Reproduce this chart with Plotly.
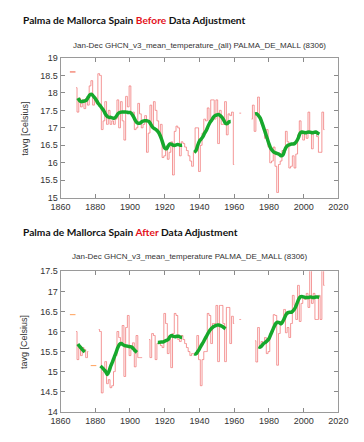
import plotly.graph_objects as go

W, H = 364, 442
OFF = 8  # page body margin of the browser; positions below are in reference pixels

years = list(range(1867, 2014))

before_red = [
    18.60, None, 18.15, 17.45, 17.85, 17.60, 17.80, 17.55, 17.85, 17.65,   # 1867-1876
    18.20, 18.35, 17.65, 17.80, 17.70, 18.55, 18.50, 16.95, 17.20, 17.75,   # 1877-1886
    17.10, 17.50, 17.10, 17.20, 17.10, 17.25, 17.80, 17.00, 17.75, 17.20,   # 1887-1896
    16.65, 17.90, 17.60, 18.20, 17.40, 17.45, 16.95, 17.00, 17.70, 17.40,   # 1897-1906
    17.00, 17.10, 17.35, 16.30, 16.85, 17.65, 17.00, 17.75, 17.50, 17.20,   # 1907-1916
    16.85, 17.10, 16.15, 16.20, 16.45, 16.10, 16.30, 16.60, 15.65, 16.90,   # 1917-1926
    17.05, 17.00, 16.20, 16.60, 16.55, 16.45, 16.35, 16.20, 16.05, 15.90,   # 1927-1936
    16.30, 17.00, 17.00, 15.75, 16.50, 16.85, 17.25, 17.20, 17.57, 17.20,   # 1937-1946
    17.80, 17.80, 17.25, 17.80, 16.55, 17.50, 17.10, 17.10, 17.75, 16.80,   # 1947-1956
    17.40, 17.35, 17.45, 15.95, None, None, 17.42, 17.42, None, None,       # 1957-1966
    None, None, None, 17.25, 17.65, 16.90, 17.40, 17.88, 17.30, 17.10,      # 1967-1976
    17.00, 16.70, 16.95, 16.45, 16.00, 16.05, 16.45, 15.90, 15.15, 15.95,   # 1977-1986
    16.05, 16.35, 16.30, 16.90, 16.60, 15.85, 15.90, 16.20, 15.85, 16.25,   # 1987-1996
    16.80, 17.20, 16.85, 16.65, 16.85, 16.70, 17.45, 16.90, 16.40, 16.85,   # 1997-2006
    16.85, 16.75, 16.30, 16.30, 17.45, 16.95, None,                         # 2007-2013
]

after_red = [
    16.42, None, 16.00, 15.30, 15.60, 15.40, 15.60, 15.55, 15.35, 15.50,   # 1867-1876
    None, None, 15.15, None, None, 16.05, 16.00, 14.47, 15.00, 15.25,      # 1877-1886
    14.70, 14.80, 14.60, 14.65, 15.00, 15.40, 16.00, 15.85, 15.70, 16.15,   # 1887-1896
    14.88, 16.10, 16.40, 15.40, 15.55, 15.72, 15.12, 15.90, 15.35, 15.35,   # 1897-1906
    15.35, None, None, None, 15.80, 15.35, 15.95, 15.90, 15.30, 15.70,      # 1907-1916
    15.70, 15.65, 15.60, 16.45, 16.20, 15.45, 15.80, 15.10, 15.95, 16.45,   # 1917-1926
    16.40, 15.80, 15.75, 15.90, 15.80, 15.70, 15.60, 15.50, 15.40, 15.45,   # 1927-1936
    15.45, 15.45, 15.90, 15.30, 14.65, 15.30, 15.50, 15.50, 16.45, 16.40,   # 1937-1946
    15.70, 16.20, 16.20, 16.65, 15.25, 16.65, 16.65, 16.20, 15.25, 16.60,   # 1947-1956
    16.60, 15.70, 16.38, 16.20, None, None, 16.30, 16.30, None, None,       # 1957-1966
    None, None, None, None, None, 15.77, 15.24, 16.10, 15.65, 15.75,        # 1967-1976
    15.70, 15.85, 15.45, 15.50, 15.95, 16.00, 16.42, 16.40, 15.16, 15.95,   # 1977-1986
    16.20, 16.25, 16.55, 15.97, 16.10, 15.85, 16.20, 16.90, 16.65, 16.30,   # 1987-1996
    17.15, 16.25, 16.70, 16.85, 16.80, 16.95, 16.60, 17.75, 16.70, 16.95,   # 1997-2006
    16.30, 16.30, 16.90, 16.30, 17.70, 17.15, None,                         # 2007-2013
]

# smoothed (green) curves: year lists and values, None separates segments
before_green_years = (list(range(1870, 1931)) + [None] + list(range(1937, 1959)) + [None]
                      + list(range(1972, 2010)))
before_green = [
    17.85, 17.78, 17.75, 17.76, 17.77, 17.80, 17.88, 17.95, 17.96, 17.90,
    17.84, 17.76, 17.68, 17.62, 17.55, 17.48, 17.38, 17.32, 17.30, 17.30,
    17.28, 17.28, 17.32, 17.40, 17.44, 17.45, 17.45, 17.45, 17.45, 17.44,
    17.44, 17.40, 17.32, 17.22, 17.15, 17.13, 17.14, 17.18, 17.20, 17.20,
    17.20, 17.18, 17.10, 17.02, 16.98, 16.95, 16.90, 16.82, 16.70, 16.55,
    16.42, 16.40, 16.48, 16.54, 16.53, 16.50, 16.50, 16.52, 16.52, 16.50,
    16.50,
    None,
    16.30, 16.35, 16.50, 16.62, 16.68, 16.75, 16.85, 16.93, 17.05, 17.15,
    17.22, 17.30, 17.35, 17.37, 17.38, 17.35, 17.30, 17.22, 17.13, 17.12,
    17.17, 17.18,
    None,
    17.40, 17.40, 17.35, 17.28, 17.15, 17.00, 16.85, 16.70, 16.55, 16.42,
    16.35, 16.30, 16.28, 16.26, 16.24, 16.20, 16.22, 16.35, 16.45, 16.50,
    16.52, 16.54, 16.54, 16.56, 16.62, 16.72, 16.85, 16.88, 16.87, 16.86,
    16.87, 16.88, 16.87, 16.86, 16.87, 16.88, 16.85, 16.82,
]

after_green_years = (list(range(1870, 1875)) + [None] + list(range(1883, 1905)) + [None]
                     + list(range(1916, 1931)) + [None] + list(range(1937, 1956)) + [None]
                     + list(range(1974, 2010)))
after_green = [
    15.69, 15.63, 15.58, 15.53, 15.49,
    None,
    15.14, 15.10, 15.05, 15.00, 14.93, 15.02, 15.15, 15.25, 15.37, 15.48,
    15.60, 15.68, 15.70, 15.67, 15.65, 15.64, 15.63, 15.62, 15.61, 15.57,
    15.52, 15.48,
    None,
    15.73, 15.73, 15.74, 15.74, 15.76, 15.78, 15.80, 15.87, 15.90, 15.88,
    15.87, 15.88, 15.88, 15.86, 15.85,
    None,
    15.45, 15.44, 15.50, 15.57, 15.65, 15.72, 15.80, 15.88, 15.96, 16.03,
    16.08, 16.12, 16.14, 16.16, 16.16, 16.15, 16.13, 16.10, 16.07,
    None,
    15.62, 15.61, 15.65, 15.70, 15.73, 15.77, 15.82, 15.92, 16.02, 16.12,
    16.20, 16.23, 16.22, 16.19, 16.25, 16.34, 16.43, 16.47, 16.48, 16.48,
    16.52, 16.58, 16.68, 16.79, 16.86, 16.87, 16.86, 16.85, 16.85, 16.85,
    16.86, 16.85, 16.85, 16.86, 16.86, 16.85,
]

x_ticks = [1860, 1880, 1900, 1920, 1940, 1960, 1980, 2000, 2020]
titles = ["Palma de Mallorca Spain <span style='color:#e3101b'>Before</span> Data Adjustment",
          "Palma de Mallorca Spain <span style='color:#e3101b'>After</span> Data Adjustment"]
subtitles = ["Jan-Dec GHCN_v3_mean_temperature_(all) PALMA_DE_MALL (8306)",
             "Jan-Dec GHCN_v3_mean_temperature PALMA_DE_MALL (8306)"]
y_label = "tavg [Celsius]"

RED = "rgba(240,115,115,0.75)"
GREEN = "#16a82c"


def px_x(p):
    return (p - OFF) / W


def px_y(p):
    return 1 - (p - OFF) / H


def isolated(ys, vs):
    out_x, out_y = [], []
    for i, v in enumerate(vs):
        if v is None:
            continue
        prev_none = i == 0 or vs[i - 1] is None
        next_none = i == len(vs) - 1 or vs[i + 1] is None
        if prev_none and next_none:
            out_x.append(ys[i])
            out_y.append(v)
    return out_x, out_y


fig = go.Figure()

for k, (red, gy, gv) in enumerate([(before_red, before_green_years, before_green),
                                     (after_red, after_green_years, after_green)]):
    xa = "x" if k == 0 else "x2"
    ya = "y" if k == 0 else "y2"
    fig.add_trace(go.Scatter(x=years, y=red, mode="lines", line=dict(color=RED, width=1, shape="hvh"),
                             connectgaps=False, xaxis=xa, yaxis=ya, showlegend=False, hoverinfo="skip"))
    ix, iy = isolated(years, red)
    fig.add_trace(go.Scatter(x=ix, y=iy, mode="markers",
                             marker=dict(symbol="line-ew-open", size=4, line=dict(color=RED, width=1)),
                             xaxis=xa, yaxis=ya, showlegend=False, hoverinfo="skip"))
    fig.add_trace(go.Scatter(x=gy, y=gv, mode="lines", line=dict(color=GREEN, width=3.5, shape="spline"),
                             connectgaps=False, xaxis=xa, yaxis=ya, showlegend=False, hoverinfo="skip"))

xdom = [px_x(53), px_x(347)]
top_dom = [px_y(197), px_y(54)]
bot_dom = [px_y(416), px_y(272.3)]

axis_common = dict(showline=True, linecolor="#9a9a9a", linewidth=1, mirror="ticks", ticks="inside",
                   ticklen=4, tickcolor="#8a8a8a", showgrid=False, zeroline=False,
                   tickfont=dict(family="Liberation Sans, Arial, sans-serif", size=9, color="#333"))

fig.update_layout(
    width=W, height=H, margin=dict(l=0, r=0, t=0, b=0),
    paper_bgcolor="white", plot_bgcolor="white",
    xaxis=dict(domain=xdom, range=[1860, 2020], tickvals=x_ticks, anchor="y", **axis_common),
    yaxis=dict(domain=top_dom, range=[15, 19], dtick=0.5, tick0=15, anchor="x", **axis_common),
    xaxis2=dict(domain=xdom, range=[1860, 2020], tickvals=x_ticks, anchor="y2", **axis_common),
    yaxis2=dict(domain=bot_dom, range=[14, 17.5], dtick=0.5, tick0=14, anchor="x2", **axis_common),
)

ann = []
for title, ty in zip(titles, [15, 232]):
    ann.append(dict(text="<b>" + title + "</b>", x=px_x(11), y=px_y(ty), xref="paper", yref="paper",
                    xanchor="left", yanchor="middle", showarrow=False,
                    font=dict(family="Lato, Liberation Sans, sans-serif", size=10.2, color="#111")))
for sub, (sx, sy) in zip(subtitles, [(200, 41), (189.5, 257)]):
    ann.append(dict(text=sub, x=px_x(sx), y=px_y(sy), xref="paper", yref="paper",
                    xanchor="center", yanchor="middle", showarrow=False,
                    font=dict(family="Liberation Sans, Arial, sans-serif", size=8, color="#333")))
for ly in [126.7, 345]:
    ann.append(dict(text=y_label, x=px_x(15), y=px_y(ly), xref="paper", yref="paper",
                    xanchor="center", yanchor="middle", showarrow=False, textangle=-90,
                    font=dict(family="Liberation Sans, Arial, sans-serif", size=9, color="#333")))
fig.update_layout(annotations=ann)

fig.write_html("out.html")
